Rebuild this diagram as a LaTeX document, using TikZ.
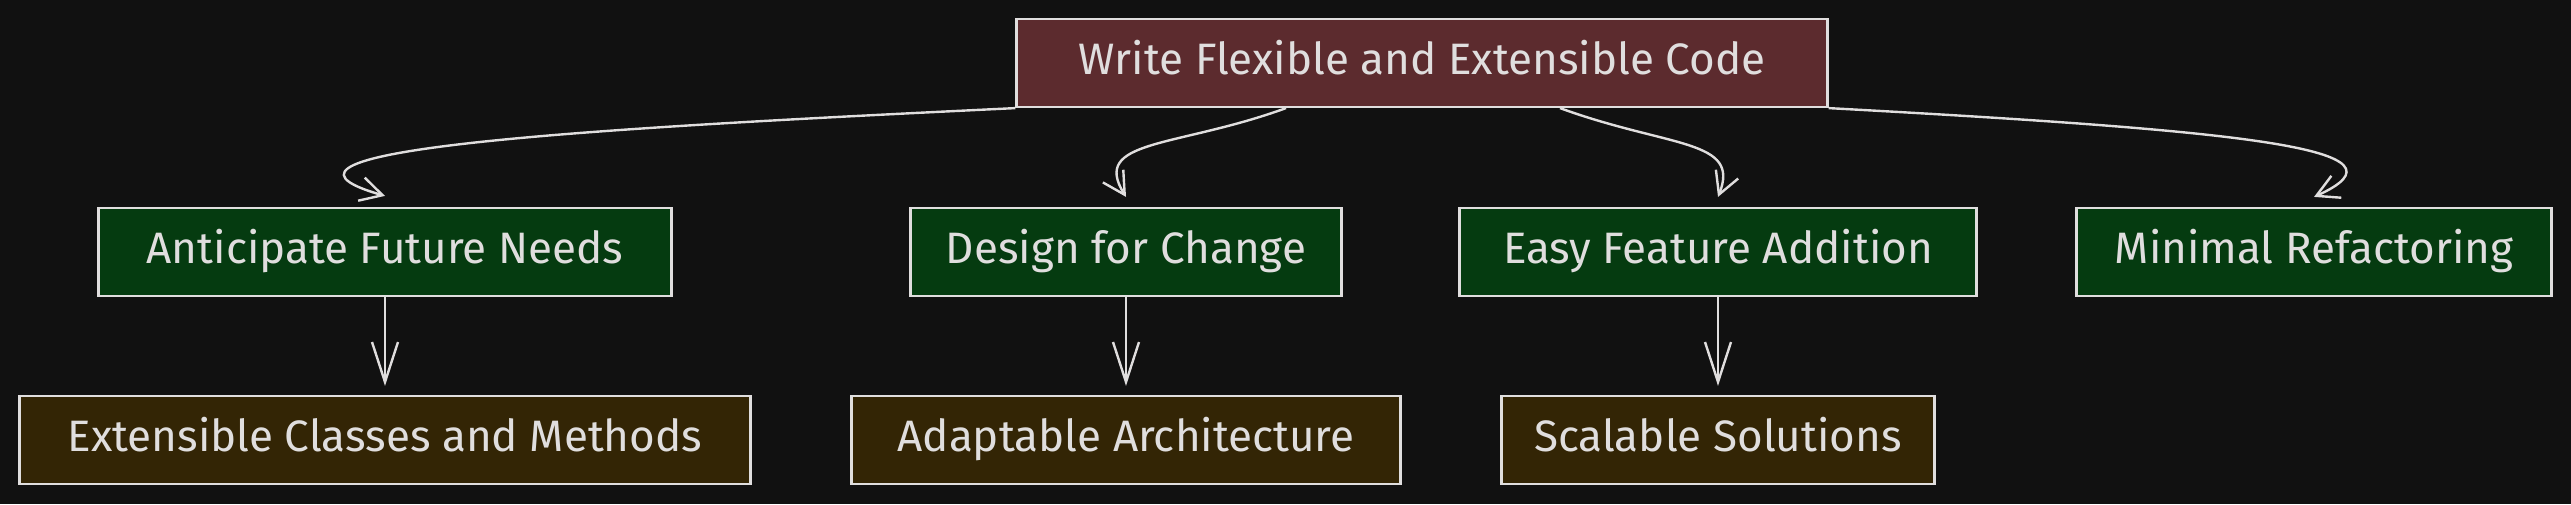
\documentclass[tikz,border=0pt]{standalone}
\usepackage{fontspec}
\setmainfont{Fira Sans}
\usetikzlibrary{arrows.meta,positioning}
\definecolor{bgdark}{HTML}{111111}
\definecolor{rootred}{HTML}{5C2B2E}
\definecolor{leafgreen}{HTML}{053B10}
\definecolor{leafbrown}{HTML}{332505}
\definecolor{inkgray}{HTML}{E0DEDE}

\begin{document}
\begin{tikzpicture}[x=1pt,y=-1pt,
  rbox/.style={draw=inkgray,line width=2.2pt,fill=rootred,minimum height=88pt,text height=32pt,text depth=10pt,text=inkgray,font=\fontsize{44}{48}\selectfont},
  gbox/.style={draw=inkgray,line width=2.2pt,fill=leafgreen,minimum height=88pt,text height=32pt,text depth=10pt,text=inkgray,font=\fontsize{44}{48}\selectfont},
  bbox/.style={draw=inkgray,line width=2.2pt,fill=leafbrown,minimum height=88pt,text height=32pt,text depth=10pt,text=inkgray,font=\fontsize{44}{48}\selectfont},
  arr/.style={-{Straight Barb[length=22pt,width=24pt]},line width=2.4pt,draw=inkgray},
  arrv/.style={-{Straight Barb[length=40pt,width=26pt]},line width=2.4pt,draw=inkgray}
]
\useasboundingbox[fill=bgdark] (0,0) rectangle (2571,504);

\node[rbox,minimum width=811pt] (root) at (1422,63) {Write Flexible and Extensible Code};

\node[gbox,minimum width=573pt] (a1) at (385,252) {Anticipate Future Needs};
\node[gbox,minimum width=431pt] (a2) at (1126,252) {Design for Change};
\node[gbox,minimum width=517pt] (a3) at (1718,252) {Easy Feature Addition};
\node[gbox,minimum width=475pt] (a4) at (2314,252) {Minimal Refactoring};

\node[bbox,minimum width=731pt] (b1) at (385,440) {Extensible Classes and Methods};
\node[bbox,minimum width=549pt] (b2) at (1126,440) {Adaptable Architecture};
\node[bbox,minimum width=433pt] (b3) at (1718,440) {Scalable Solutions};

% root to first row
\draw[arr] (root.south west) .. controls +(-416,20) and +(-164,-47) .. ([yshift=11pt]a1.north);
\draw[arr] ([xshift=-136pt]root.south) .. controls +(-110,40) and +(-36,-58) .. ([yshift=10pt]a2.north);
\draw[arr] ([xshift=138pt]root.south) .. controls +(110,40) and +(23,-58) .. ([yshift=10pt]a3.north);
\draw[arr] (root.south east) .. controls +(422,23) and +(106,-48) .. ([yshift=10pt]a4.north);

% first row to second row
\draw[arrv] (a1.south) -- ([yshift=9pt]b1.north);
\draw[arrv] (a2.south) -- ([yshift=9pt]b2.north);
\draw[arrv] (a3.south) -- ([yshift=9pt]b3.north);
\end{tikzpicture}
\end{document}
